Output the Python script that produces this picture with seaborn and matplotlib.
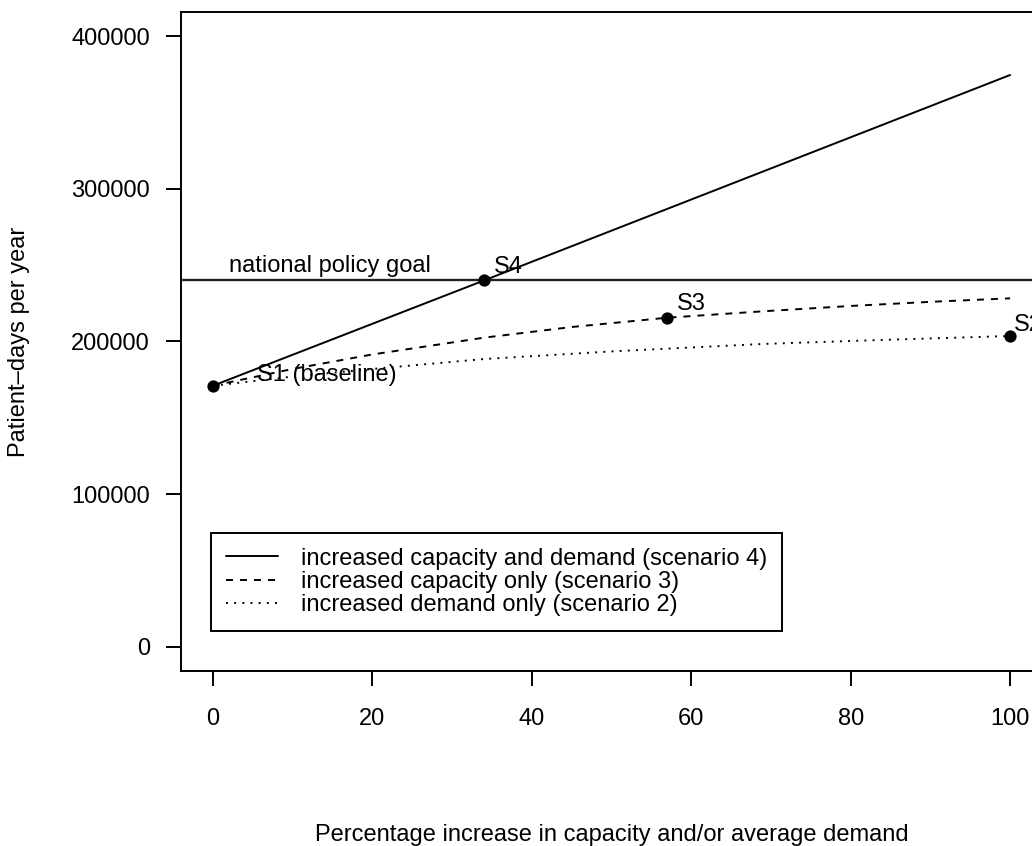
"""Patient-days per year under capacity / demand scenarios (R base-graphics look)."""

import matplotlib
matplotlib.use("Agg")
import matplotlib.pyplot as plt
import seaborn as sns

# --- data ------------------------------------------------------------------
pct_s4 = [0, 34, 100]
days_s4 = [171000, 240000, 374700]

pct_s3 = [0, 10, 20, 34, 45, 57, 69, 80, 90, 100]
days_s3 = [171000, 182000, 191500, 202500, 209500, 215600, 219800, 223300, 226000, 228300]

pct_s2 = [0, 10, 20, 34, 50, 69, 85, 100]
days_s2 = [171000, 177000, 182000, 188500, 193500, 198400, 201200, 203600]

policy_goal = 240000

point_names = ["S1 (baseline)", "S4", "S3", "S2"]
point_pct = [0, 34, 57, 100]
point_days = [171000, 240000, 215600, 203600]
# label offsets in points (right, up) from each marker
label_offsets = [(32, 8), (7, 10), (7, 10), (3, 8)]

legend_labels = [
    "increased capacity and demand (scenario 4)",
    "increased capacity only (scenario 3)",
    "increased demand only (scenario 2)",
]

x_ticks = [0, 20, 40, 60, 80, 100]
y_ticks = [0, 100000, 200000, 300000, 400000]

# --- style -------------------------------------------------------------------
sns.set_theme(style="white")
plt.rcParams["font.family"] = ["Liberation Sans", "DejaVu Sans"]
plt.rcParams.update({
    "text.color": "black",
    "axes.labelcolor": "black",
    "xtick.color": "black",
    "ytick.color": "black",
})
FS = 17
LW = 1.4

fig = plt.figure(figsize=(10.32, 8.46), dpi=100)
# plot region runs past the right edge, as in the cropped original
ax = fig.add_axes([181 / 1032, (846 - 671) / 846, 861 / 1032, 659 / 846])

sns.lineplot(x=pct_s4, y=days_s4, ax=ax, color="black", linewidth=LW,
             linestyle="-", label=legend_labels[0])
sns.lineplot(x=pct_s3, y=days_s3, ax=ax, color="black", linewidth=LW,
             linestyle=(0, (3.6, 3.6)), label=legend_labels[1])
sns.lineplot(x=pct_s2, y=days_s2, ax=ax, color="black", linewidth=LW,
             linestyle=(0, (1.0, 3.2)), label=legend_labels[2])

ax.axhline(policy_goal, color="#222222", linewidth=1.7, zorder=1)
ax.text(2, policy_goal + 5800, "national policy goal", fontsize=FS,
        ha="left", va="baseline")

sns.scatterplot(x=point_pct, y=point_days, ax=ax, color="black", s=78,
                edgecolor="black", linewidth=0, zorder=5, legend=False)
for name, px, py, (dx, dy) in zip(point_names, point_pct, point_days, label_offsets):
    ax.annotate(name, xy=(px, py), xytext=(dx, dy), textcoords="offset points",
                fontsize=FS, ha="left", va="center")

ax.set_xlim(-4, 104)
ax.set_ylim(-16000, 416000)
ax.set_xticks(x_ticks)
ax.set_yticks(y_ticks)
ax.set_xticklabels([str(t) for t in x_ticks])
ax.set_yticklabels([str(t) for t in y_ticks])
ax.tick_params(axis="both", direction="out", length=10.8, width=LW,
               labelsize=FS, color="black", labelcolor="black",
               left=True, bottom=True)
ax.tick_params(axis="x", pad=15.5)
ax.tick_params(axis="y", pad=11.5)
for sp in ax.spines.values():
    sp.set_visible(True)
    sp.set_color("black")
    sp.set_linewidth(LW)
ax.grid(False)

ax.set_xlabel("Percentage increase in capacity and/or average demand", fontsize=FS)
ax.xaxis.set_label_coords(0.5, -0.258)
ax.xaxis.label.set_va("baseline")
ax.set_ylabel("Patient–days per year", fontsize=FS)
ax.yaxis.set_label_coords(-0.175, 0.5)

handles = ax.get_lines()[:3]
leg = ax.legend(handles, legend_labels, loc="upper left",
                bbox_to_anchor=(30 / 861, (671 - 533) / 659), borderaxespad=0,
                fontsize=FS, frameon=True, fancybox=False, edgecolor="black",
                framealpha=1, borderpad=0.62, labelspacing=0.05,
                handlelength=2.2, handletextpad=1.0, labelcolor="black")
leg.get_frame().set_linewidth(LW)

fig.savefig("out.png", dpi=100)
